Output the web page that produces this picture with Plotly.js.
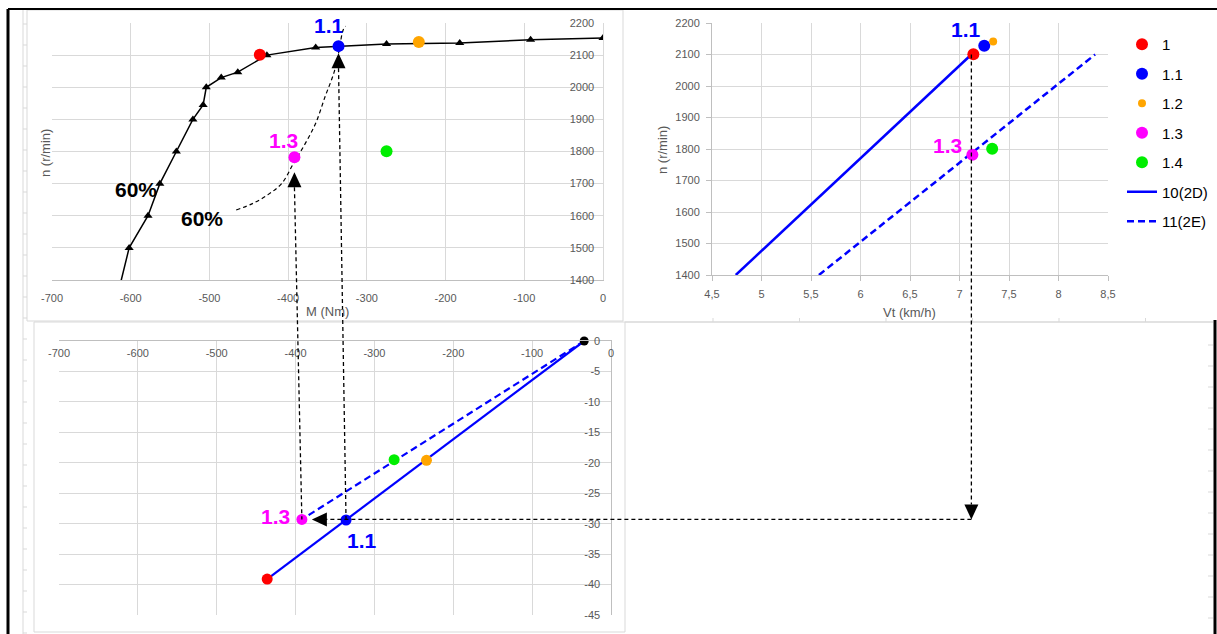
<!DOCTYPE html>
<html>
<head>
<meta charset="utf-8">
<script src="https://cdn.plot.ly/plotly-3.0.1.min.js"></script>
<style>
  html, body { margin: 0; padding: 0; background: #ffffff; }
  #chart { width: 1217px; height: 634px; }
</style>
</head>
<body>
<div id="chart"></div>
<script>
const W = 1217, H = 634;
const FONT = 'Liberation Sans, Arial, sans-serif';

// Operating points 1, 1.1, 1.2, 1.3, 1.4
const pointNames  = ['1', '1.1', '1.2', '1.3', '1.4'];
const pointColors = ['#ff0000', '#0000ff', '#ffa500', '#ff00ff', '#00ee00'];
const pointM   = [-436, -336, -234, -392, -275];     // M (Nm)
const pointN   = [2101, 2128, 2141, 1782, 1801];     // n (r/min)
const pointVt  = [7.14, 7.25, 7.34, 7.13, 7.33];     // Vt (km/h)
const pointLow = [-39.1, -29.4, -19.6, -29.3, -19.5]; // lower chart ordinate

// Engine characteristic M - n (60 %)
const curveM = [-622, -602, -578, -563, -542, -521, -508, -504, -485, -464, -427, -365, -275, -182, -92, 0];
const curveN = [1300, 1500, 1600, 1700, 1800, 1900, 1945, 2000, 2030, 2047, 2100, 2124, 2135, 2138, 2148, 2153];

// Dashed 60 % guide curve in the M - n chart
const guideM = [-466, -446, -426, -408, -393, -378, -365, -353, -342, -336, -330, -327];
const guideN = [1618, 1637, 1665, 1701, 1764, 1826, 1888, 1971, 2044, 2106, 2179, 2190];

// Gear lines 10(2D) and 11(2E)
const line10Vt = [4.74, 7.12], line10N = [1400, 2100];
const line11Vt = [5.58, 8.37], line11N = [1400, 2100];
const line10M = [-34, -436], line10Low = [0, -39.1];
const line11M = [-34, -392], line11Low = [0, -29.3];
const originM = [-34], originLow = [0];

// Tick values and labels
const tickM = [-700, -600, -500, -400, -300, -200, -100, 0];
const tickMText = ['-700', '-600', '-500', '-400', '-300', '-200', '-100', '0'];
const tickN = [1400, 1500, 1600, 1700, 1800, 1900, 2000, 2100, 2200];
const tickNText = ['1400', '1500', '1600', '1700', '1800', '1900', '2000', '2100', '2200'];
const tickVt = [4.5, 5, 5.5, 6, 6.5, 7, 7.5, 8, 8.5];
const tickVtText = ['4,5', '5', '5,5', '6', '6,5', '7', '7,5', '8', '8,5'];
const tickLow = [0, -5, -10, -15, -20, -25, -30, -35, -40, -45];
const tickLowText = ['0', '-5', '-10', '-15', '-20', '-25', '-30', '-35', '-40', '-45'];

// Plot boxes in pixels
const boxTL = { x0: 52, x1: 603, y0: 23, y1: 280 };
const boxTR = { x0: 712, x1: 1108, y0: 23, y1: 275 };
const boxBT = { x0: 59, x1: 611, y0: 341, y1: 615 };
const rangeM = [-700, 0], rangeN = [1400, 2200], rangeVt = [4.5, 8.5], rangeLow = [-45, 0];

const xDom = b => [b.x0 / W, b.x1 / W];
const yDom = b => [1 - b.y1 / H, 1 - b.y0 / H];

const TL = { box: boxTL, xr: rangeM, yr: rangeN };
const TR = { box: boxTR, xr: rangeVt, yr: rangeN };
const BT = { box: boxBT, xr: rangeM, yr: rangeLow };
function toPx(c, x, y) {
  return [
    c.box.x0 + (x - c.xr[0]) / (c.xr[1] - c.xr[0]) * (c.box.x1 - c.box.x0),
    c.box.y1 - (y - c.yr[0]) / (c.yr[1] - c.yr[0]) * (c.box.y1 - c.box.y0)
  ];
}
const P = p => [p[0] / W, 1 - p[1] / H];

const grid = '#d9d9d9', axisLine = '#bfbfbf', tickCol = '#595959';
const tickFont = { family: FONT, size: 11, color: tickCol };

const traces = [];

// Upper left: M - n
traces.push({
  x: curveM, y: curveN, xaxis: 'x', yaxis: 'y', type: 'scatter', mode: 'lines+markers',
  line: { color: '#000000', width: 1.5 },
  marker: { symbol: 'triangle-up', size: 8, color: '#000000' },
  showlegend: false, hoverinfo: 'skip'
});
traces.push({
  x: guideM, y: guideN, xaxis: 'x', yaxis: 'y', type: 'scatter', mode: 'lines',
  line: { color: '#000000', width: 1.2, dash: '4px,3px', shape: 'spline' },
  showlegend: false, hoverinfo: 'skip', cliponaxis: false
});
traces.push({
  x: pointM, y: pointN, xaxis: 'x', yaxis: 'y', type: 'scatter', mode: 'markers',
  marker: { size: 12, color: pointColors }, showlegend: false, cliponaxis: false
});

// Upper right: Vt - n
traces.push({
  x: line10Vt, y: line10N, xaxis: 'x2', yaxis: 'y2', type: 'scatter', mode: 'lines',
  name: '10(2D)', line: { color: '#0000ff', width: 2.5 }, legendgroup: 'g5', legendrank: 6
});
traces.push({
  x: line11Vt, y: line11N, xaxis: 'x2', yaxis: 'y2', type: 'scatter', mode: 'lines',
  name: '11(2E)', line: { color: '#0000ff', width: 2.5, dash: '7px,4px' }, legendgroup: 'g6', legendrank: 7
});
pointNames.forEach((nm, i) => {
  traces.push({
    x: [pointVt[i]], y: [pointN[i]], xaxis: 'x2', yaxis: 'y2', type: 'scatter', mode: 'markers',
    name: nm, marker: { size: i === 2 ? 8 : 12, color: pointColors[i] },
    legendgroup: 'g' + i, legendrank: i + 1, cliponaxis: false
  });
});

// Lower: M - lower ordinate
traces.push({
  x: line10M, y: line10Low, xaxis: 'x3', yaxis: 'y3', type: 'scatter', mode: 'lines',
  line: { color: '#0000ff', width: 2.2 }, showlegend: false
});
traces.push({
  x: line11M, y: line11Low, xaxis: 'x3', yaxis: 'y3', type: 'scatter', mode: 'lines',
  line: { color: '#0000ff', width: 2.2, dash: '7px,4px' }, showlegend: false
});
traces.push({
  x: originM, y: originLow, xaxis: 'x3', yaxis: 'y3', type: 'scatter', mode: 'markers',
  marker: { size: 9, color: '#000000' }, showlegend: false, cliponaxis: false
});
traces.push({
  x: pointM, y: pointLow, xaxis: 'x3', yaxis: 'y3', type: 'scatter', mode: 'markers',
  marker: { size: 11, color: pointColors }, showlegend: false, cliponaxis: false
});

// Dashed connectors and arrow heads
const dashLine = { color: '#000000', width: 1.3, dash: '4px,3px' };
function seg(a, b) {
  const A = P(a), B = P(b);
  return { type: 'line', xref: 'paper', yref: 'paper', x0: A[0], y0: A[1], x1: B[0], y1: B[1], line: dashLine, layer: 'above' };
}
function head(tip, dir) {
  const L = 15, hw = 7;
  let pts;
  if (dir === 'up') pts = [tip, [tip[0] - hw, tip[1] + L], [tip[0] + hw, tip[1] + L]];
  else if (dir === 'down') pts = [tip, [tip[0] - hw, tip[1] - L], [tip[0] + hw, tip[1] - L]];
  else pts = [tip, [tip[0] + L, tip[1] - hw], [tip[0] + L, tip[1] + hw]];
  const path = 'M' + pts.map(p => P(p).join(',')).join(' L') + ' Z';
  return { type: 'path', xref: 'paper', yref: 'paper', path: path, fillcolor: '#000000', line: { width: 0 }, layer: 'above' };
}

const shapes = [];
// frames of the sheet
const frameCol = '#d9d9d9';
function rectPx(x0, y0, x1, y1, col, w) {
  const A = P([x0, y0]), B = P([x1, y1]);
  return { type: 'rect', xref: 'paper', yref: 'paper', x0: A[0], y0: B[1], x1: B[0], y1: A[1], line: { color: col, width: w }, layer: 'below' };
}
function linePx(x0, y0, x1, y1, col, w) {
  const A = P([x0, y0]), B = P([x1, y1]);
  return { type: 'line', xref: 'paper', yref: 'paper', x0: A[0], y0: A[1], x1: B[0], y1: B[1], line: { color: col, width: w }, layer: 'below' };
}
shapes.push(linePx(23, 10, 23, 634, frameCol, 1));
for (let y = 24; y < 634; y += 21) shapes.push(linePx(23, y, 27, y, frameCol, 1));
for (let y = 345; y < 634; y += 21) shapes.push(linePx(1208, y, 1213, y, frameCol, 1));
shapes.push(linePx(625, 322, 1213, 322, frameCol, 1.5));
for (let x = 713; x < 1213; x += 86.5) shapes.push(linePx(x, 318, x, 322, frameCol, 1));
shapes.push(rectPx(27, 10, 623, 321, frameCol, 1));
shapes.push(rectPx(34, 322, 625, 632, frameCol, 1));
shapes.push(linePx(8, 9, 1217, 9, '#000000', 2));
shapes.push(linePx(8, 9, 8, 634, '#000000', 3));
shapes.push(linePx(1215, 320, 1215, 634, '#000000', 3));

// 1.1: M - n chart down to the lower chart
const c11 = toPx(TL, pointM[1], pointN[1]);
const b11 = toPx(BT, pointM[1], pointLow[1]);
shapes.push(head([c11[0], c11[1] + 7], 'up'));
shapes.push(seg([c11[0], c11[1] + 22], b11));
// 1.3: M - n chart down to the lower chart
const c13 = toPx(TL, pointM[3], pointN[3]);
const b13 = toPx(BT, pointM[3], pointLow[3]);
shapes.push(head([c13[0], c13[1] + 15], 'up'));
shapes.push(seg([c13[0], c13[1] + 30], b13));
// Vt of point 1 down, then across to 1.3 in the lower chart
const r1 = toPx(TR, line10Vt[1], line10N[1]);
const hy = b13[1];
shapes.push(seg(r1, [r1[0], hy - 15]));
shapes.push(head([r1[0], hy], 'down'));
shapes.push(seg([r1[0], hy], [b13[0] + 24, hy]));
shapes.push(head([b13[0] + 10, hy], 'left'));

// Labels
const ann = [];
function lbl(xref, yref, x, y, text, color) {
  ann.push({ xref: xref, yref: yref, x: x, y: y, text: '<b>' + text + '</b>', showarrow: false,
    font: { family: FONT, size: 21, color: color }, xanchor: 'center', yanchor: 'middle' });
}
lbl('x', 'y', -348, 2191, '1.1', '#0000ff');
lbl('x', 'y', -406, 1835, '1.3', '#ff00ff');
lbl('x', 'y', -593, 1683, '60%', '#000000');
lbl('x', 'y', -509, 1593, '60%', '#000000');
lbl('x2', 'y2', 7.07, 2178, '1.1', '#0000ff');
lbl('x2', 'y2', 6.88, 1810, '1.3', '#ff00ff');
lbl('x3', 'y3', -425, -28.9, '1.3', '#ff00ff');
lbl('x3', 'y3', -316, -32.8, '1.1', '#0000ff');

function title(px, py, text, angle) {
  const p = P([px, py]);
  ann.push({ xref: 'paper', yref: 'paper', x: p[0], y: p[1], text: text, showarrow: false, textangle: angle || 0,
    font: { family: FONT, size: 13, color: tickCol }, xanchor: 'center', yanchor: 'middle' });
}
title(45, 153, 'n (r/min)', -90);
title(327, 311, 'M (Nm)');
title(663, 150, 'n (r/min)', -90);
title(910, 312, 'Vt (km/h)');

const baseAxis = {
  showgrid: true, gridcolor: grid, gridwidth: 1, zeroline: false,
  showline: true, linecolor: axisLine, linewidth: 1,
  tickfont: tickFont, tickmode: 'array', fixedrange: true
};

const layout = {
  width: W, height: H,
  margin: { l: 0, r: 0, t: 0, b: 0 },
  paper_bgcolor: '#ffffff', plot_bgcolor: 'rgba(0,0,0,0)',
  font: { family: FONT },
  showlegend: true,
  legend: {
    x: 1122 / W, y: 1 - 28 / H, xanchor: 'left', yanchor: 'top',
    font: { family: FONT, size: 15, color: '#000000' },
    bgcolor: 'rgba(0,0,0,0)', traceorder: 'grouped', tracegroupgap: 7
  },
  xaxis: Object.assign({}, baseAxis, {
    domain: xDom(boxTL), range: rangeM, anchor: 'y', tickvals: tickM, ticktext: tickMText,
    ticks: '', ticklabelstandoff: 8
  }),
  yaxis: Object.assign({}, baseAxis, {
    domain: yDom(boxTL), range: rangeN, anchor: 'x', side: 'right', tickvals: tickN, ticktext: tickNText,
    ticks: '', ticklabelposition: 'inside', ticklabeloverflow: 'allow', ticklabelstandoff: 8, linecolor: grid
  }),
  xaxis2: Object.assign({}, baseAxis, {
    domain: xDom(boxTR), range: rangeVt, anchor: 'y2', tickvals: tickVt, ticktext: tickVtText,
    ticks: 'outside', ticklen: 5, tickcolor: axisLine, ticklabelstandoff: 4
  }),
  yaxis2: Object.assign({}, baseAxis, {
    domain: yDom(boxTR), range: rangeN, anchor: 'x2', tickvals: tickN, ticktext: tickNText,
    ticks: 'outside', ticklen: 5, tickcolor: axisLine, ticklabelstandoff: 4
  }),
  xaxis3: Object.assign({}, baseAxis, {
    domain: xDom(boxBT), range: rangeM, anchor: 'y3', side: 'top', tickvals: tickM, ticktext: tickMText,
    ticks: '', ticklabelposition: 'inside', ticklabeloverflow: 'allow', ticklabelstandoff: 8
  }),
  yaxis3: Object.assign({}, baseAxis, {
    domain: yDom(boxBT), range: rangeLow, anchor: 'x3', side: 'right', tickvals: tickLow, ticktext: tickLowText,
    ticks: '', ticklabelposition: 'inside', ticklabeloverflow: 'allow', ticklabelstandoff: 10
  }),
  shapes: shapes,
  annotations: ann
};

Plotly.newPlot('chart', traces, layout, { displayModeBar: false, staticPlot: true });
</script>
</body>
</html>
